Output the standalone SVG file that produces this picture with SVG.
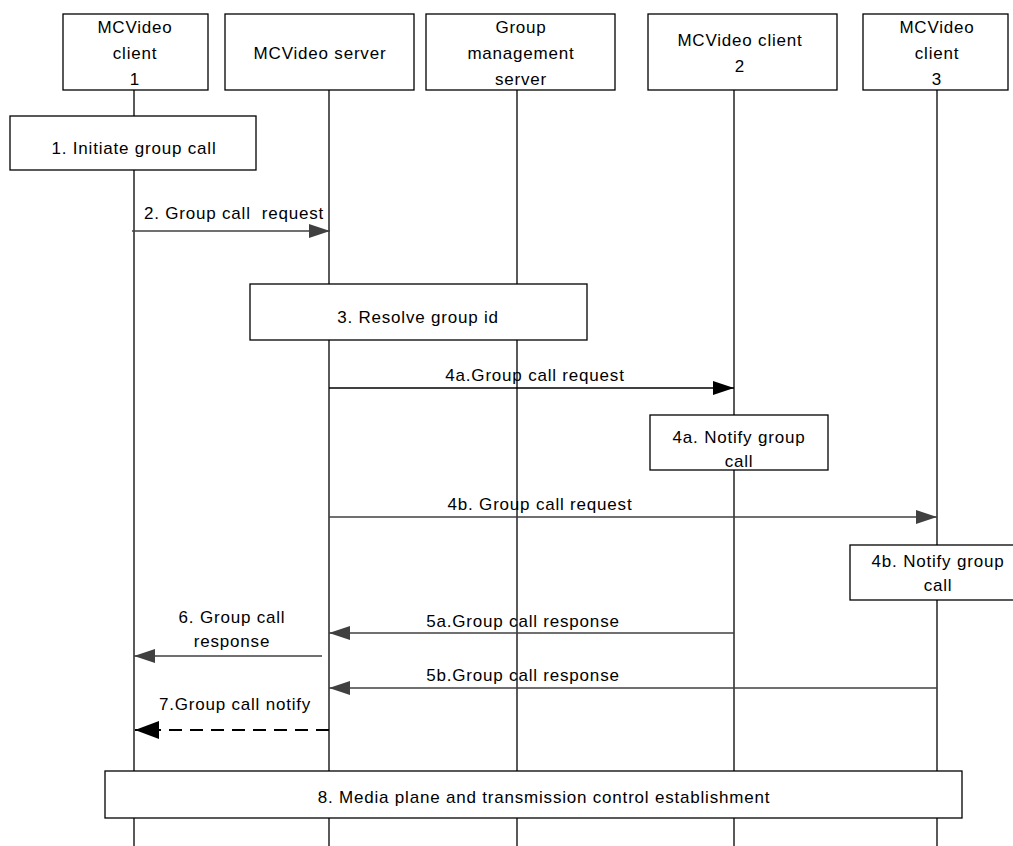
<svg xmlns="http://www.w3.org/2000/svg" width="1013" height="846" viewBox="0 0 1013 846">
<style>
.box{fill:#fff;stroke:#000;stroke-width:1.3}
.life{stroke:#000;stroke-width:1.3}
.t{font-family:"Liberation Sans",Arial,sans-serif;font-size:17px;letter-spacing:0.8px;fill:#000;text-anchor:middle}
.g{stroke:#404040;stroke-width:1.5;fill:none}
.k{stroke:#000;stroke-width:1.5;fill:none}
.d{stroke:#000;stroke-width:2;fill:none;stroke-dasharray:13 8}
</style>
<defs>
<marker id="ag" markerUnits="userSpaceOnUse" markerWidth="22" markerHeight="14" refX="21" refY="7" orient="auto"><path d="M0,0 L21,7 L0,14 Z" fill="#404040"/></marker>
<marker id="ak" markerUnits="userSpaceOnUse" markerWidth="22" markerHeight="14" refX="21" refY="7" orient="auto"><path d="M0,0 L21,7 L0,14 Z" fill="#000"/></marker>
<marker id="akd" markerUnits="userSpaceOnUse" markerWidth="25" markerHeight="18" refX="24" refY="9" orient="auto"><path d="M0,0 L24,9 L0,18 Z" fill="#000"/></marker>
</defs>
<g id="lifelines">
<line class="life" x1="134" y1="90" x2="134" y2="846"/>
<line class="life" x1="329" y1="90" x2="329" y2="846"/>
<line class="life" x1="517" y1="90" x2="517" y2="846"/>
<line class="life" x1="734" y1="90" x2="734" y2="846"/>
<line class="life" x1="937" y1="90" x2="937" y2="846"/>
</g>
<g id="client1"><rect class="box" x="63" y="14" width="145" height="76"/><text class="t" x="135" y="33">MCVideo</text><text class="t" x="135" y="59">client</text><text class="t" x="135" y="85">1</text></g>
<g id="server"><rect class="box" x="225" y="14" width="189" height="76"/><text class="t" x="320" y="59">MCVideo server</text></g>
<g id="gms"><rect class="box" x="426" y="14" width="189" height="76"/><text class="t" x="521" y="33">Group</text><text class="t" x="521" y="59">management</text><text class="t" x="521" y="85">server</text></g>
<g id="client2"><rect class="box" x="648" y="14" width="189" height="76"/><text class="t" x="740" y="46">MCVideo client</text><text class="t" x="740" y="72">2</text></g>
<g id="client3"><rect class="box" x="863" y="14" width="145" height="76"/><text class="t" x="937" y="33">MCVideo</text><text class="t" x="937" y="59">client</text><text class="t" x="937" y="85">3</text></g>
<g id="step1"><rect class="box" x="10" y="116" width="246" height="54"/><text class="t" x="134" y="154">1. Initiate group call</text></g>
<g id="step3"><rect class="box" x="250" y="284" width="337" height="56"/><text class="t" x="418" y="323">3. Resolve group id</text></g>
<g id="step4a"><rect class="box" x="650" y="415" width="178" height="55"/><text class="t" x="739" y="443">4a. Notify group</text><text class="t" x="739" y="467">call</text></g>
<g id="step4b"><rect class="box" x="850" y="545" width="176" height="55"/><text class="t" x="938" y="567">4b. Notify group</text><text class="t" x="938" y="591">call</text></g>
<g id="step8"><rect class="box" x="105" y="771" width="857" height="47"/><text class="t" x="544" y="803">8. Media plane and transmission control establishment</text></g>
<g id="connectors">
<line class="g" x1="132" y1="231" x2="330" y2="231" marker-end="url(#ag)"/>
<text class="t" x="234" y="219" style="white-space:pre">2. Group call  request</text>
<line class="k" x1="329" y1="388" x2="734" y2="388" marker-end="url(#ak)"/>
<text class="t" x="535" y="381">4a.Group call request</text>
<line class="g" x1="329" y1="517" x2="937" y2="517" marker-end="url(#ag)"/>
<text class="t" x="540" y="510">4b. Group call request</text>
<line class="g" x1="734" y1="633" x2="329" y2="633" marker-end="url(#ag)"/>
<text class="t" x="523" y="627">5a.Group call response</text>
<line class="g" x1="322" y1="656" x2="134" y2="656" marker-end="url(#ag)"/>
<text class="t" x="232" y="623">6. Group call</text>
<text class="t" x="232" y="647">response</text>
<line class="g" x1="937" y1="688" x2="329" y2="688" marker-end="url(#ag)"/>
<text class="t" x="523" y="681">5b.Group call response</text>
<line class="d" x1="329" y1="730" x2="135" y2="730" marker-end="url(#akd)"/>
<text class="t" x="235" y="710">7.Group call notify</text>
</g>
</svg>
